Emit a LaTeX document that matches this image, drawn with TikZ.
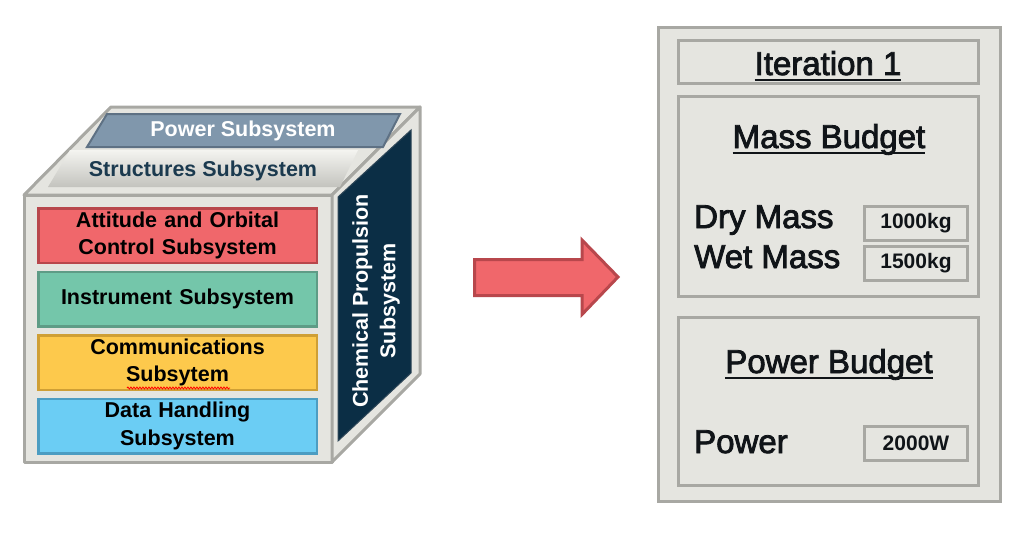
\documentclass[tikz,border=0pt]{standalone}
\usepackage{fontspec}
\setmainfont{Liberation Sans}
\newfontfamily\outlinefont[FakeBold=2.5]{Liberation Sans}
\usepackage{tikz}
\usetikzlibrary{positioning,decorations.pathmorphing}

\definecolor{cubeFill}{HTML}{E5E5E0}
\definecolor{cubeEdge}{HTML}{A8A8A3}
\definecolor{powerFill}{HTML}{8097AC}
\definecolor{powerEdge}{HTML}{5E7184}
\definecolor{structTop}{HTML}{F4F4F0}
\definecolor{structBottom}{HTML}{C3C3BE}
\definecolor{structText}{HTML}{1B3A4F}
\definecolor{navyFill}{HTML}{0B2E45}
\definecolor{aocsFill}{HTML}{F0676B}
\definecolor{aocsEdge}{HTML}{B8474C}
\definecolor{instFill}{HTML}{74C6AA}
\definecolor{instEdge}{HTML}{5E9C86}
\definecolor{commsFill}{HTML}{FDC94C}
\definecolor{commsEdge}{HTML}{CF9F35}
\definecolor{dataFill}{HTML}{6BCDF4}
\definecolor{dataEdge}{HTML}{4C9DC2}
\definecolor{textDark}{HTML}{101418}

\newcommand{\ulheading}[1]{\begingroup\setbox0=\hbox{#1}\rlap{\copy0}\rule[-6pt]{\wd0}{2pt}\endgroup}

\tikzstyle{cubeface} = [draw=cubeEdge, fill=cubeFill, line width=3pt, line join=round]
\tikzstyle{cubetext} = [font=\fontsize{21.5}{27.5}\selectfont\bfseries]
\tikzstyle{layer} = [rectangle, draw, line width=2.5pt, minimum width=278.5pt,
minimum height=54.5pt, text width=272pt, align=center, inner sep=1pt,
node distance=6.5pt, cubetext]
\tikzstyle{panel} = [rectangle, draw=cubeEdge, fill=cubeFill, line width=3pt, inner sep=0pt]
\tikzstyle{valuebox} = [panel, minimum width=103pt, minimum height=34pt,
font=\fontsize{21}{24}\selectfont\bfseries, text=textDark]
\tikzstyle{heading} = [font=\fontsize{33}{38}\selectfont\outlinefont, text=textDark, inner sep=0pt]
\tikzstyle{spellwave} = [draw=red, line width=0.8pt, decorate,
decoration={snake, amplitude=1pt, segment length=3pt}]

\begin{document}
\begin{tikzpicture}[x=1pt,y=-1pt]
\useasboundingbox (0,0) rectangle (1026,543);

% cube
\draw[cubeface] (24,195) rectangle (332,462);
\draw[cubeface] (24,195) -- (111,107) -- (420,107) -- (332,195) -- cycle;
\draw[cubeface] (332,195) -- (420,107) -- (420,374) -- (332,462) -- cycle;

\draw[fill=powerFill, draw=powerEdge, line width=2pt] (107,114) -- (400,114) -- (383,147) -- (87,147) -- cycle;
\node (PowerSub) [cubetext, text=white] at (243,131) {Power Subsystem};

\shade[top color=structTop, bottom color=structBottom] (70,150) -- (358,150) -- (340,187) -- (48,187) -- cycle;
\node (StructSub) [cubetext, text=structText] at (203,171) {Structures Subsystem};

\draw[fill=navyFill, draw=navyFill!70!gray, line width=1pt] (338,197) -- (411,130) -- (411,373) -- (338,441) -- cycle;
\node (Propulsion) [cubetext, text=white, align=center, rotate=90] at (376,301) {Chemical Propulsion\\Subsystem};

\node (AOCS) [layer, fill=aocsFill, draw=aocsEdge] at (177.5,235.5) {Attitude and Orbital\\Control Subsystem};
\node (Instrument) [layer, fill=instFill, draw=instEdge, below=of AOCS] {Instrument Subsystem};
\node (Comms) [layer, fill=commsFill, draw=commsEdge, below=of Instrument] {Communications\\Subsytem};
\node (DataHandling) [layer, fill=dataFill, draw=dataEdge, below=of Comms] {Data Handling\\Subsystem};
\draw[spellwave] (127,388) -- (230,388);

% arrow
\draw[fill=aocsFill, draw=aocsEdge, line width=3pt, line join=miter]
  (474.5,259.5) -- (582,259.5) -- (582,240) -- (618,277) -- (582,314.5) -- (582,295.5) -- (474.5,295.5) -- cycle;

% budget sheet
\node (Sheet) [panel, minimum width=342pt, minimum height=474pt] at (829.5,264.5) {};
\node (IterBox) [panel, minimum width=300pt, minimum height=43pt] at (828.5,62) {};
\node (MassBox) [panel, minimum width=300pt, minimum height=200pt, below=10pt of IterBox] {};
\node (PowerBox) [panel, minimum width=300pt, minimum height=168pt, below=18pt of MassBox] {};

\node (IterTitle) [heading, anchor=base] at (828,75) {\ulheading{Iteration 1}};
\node (MassTitle) [heading, anchor=base] at (829,148) {\ulheading{Mass Budget}};
\node (PowerTitle) [heading, anchor=base] at (829,373) {\ulheading{Power Budget}};

\node (DryMass) [heading, anchor=base west] at (694,228) {Dry Mass};
\node (WetMass) [heading, anchor=base west] at (694,268) {Wet Mass};
\node (PowerEntry) [heading, anchor=base west] at (694,453) {Power};

\node (DryValue) [valuebox] at (916,223.5) {1000kg};
\node (WetValue) [valuebox, below=3pt of DryValue] {1500kg};
\node (PowerValue) [valuebox] at (916,443.5) {2000W};

\end{tikzpicture}
\end{document}
